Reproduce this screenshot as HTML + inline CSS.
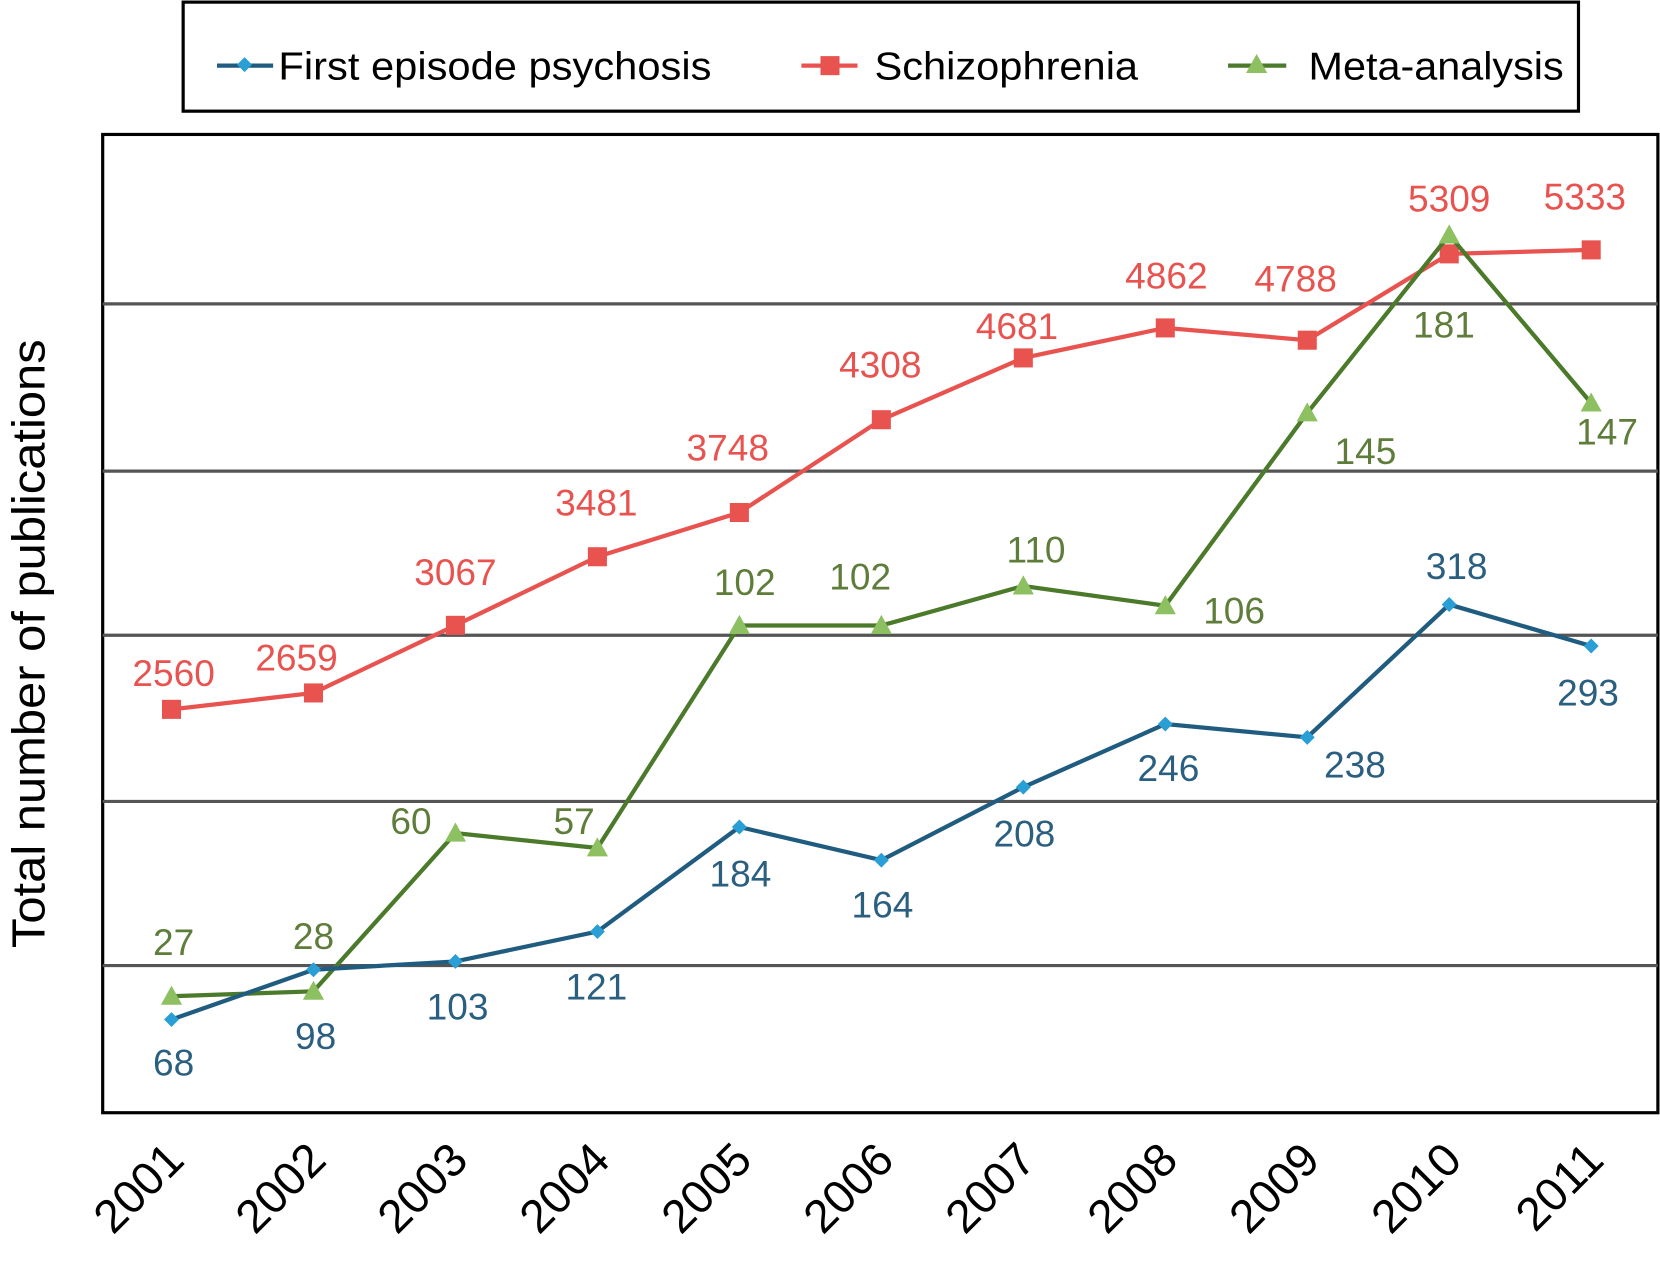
<!DOCTYPE html>
<html><head><meta charset="utf-8"><style>
html,body{margin:0;padding:0;background:#fff;}
svg{display:block;font-family:"Liberation Sans",Arial,sans-serif;}
</style></head><body>
<svg id="chart" width="1660" height="1262" viewBox="0 0 1568 1192" preserveAspectRatio="none" xmlns="http://www.w3.org/2000/svg">
<g>
<rect x="173" y="2" width="1318" height="103" fill="#fff" stroke="#000" stroke-width="3"/>
<g>
<line x1="205" y1="62" x2="258" y2="62" stroke="#1f5c80" stroke-width="4"/>
<rect x="226" y="56" width="10" height="10" fill="#2a9fd6" transform="rotate(45 231 61)"/>
<text x="263" y="75" font-size="37" fill="#000" textLength="409" lengthAdjust="spacingAndGlyphs">First episode psychosis</text></g>
<g>
<line x1="757" y1="62" x2="810" y2="62" stroke="#e8534f" stroke-width="4"/>
<rect x="775" y="53" width="18" height="18" fill="#e8534f"/>
<text x="826" y="75" font-size="37" fill="#000" textLength="249" lengthAdjust="spacingAndGlyphs">Schizophrenia</text></g>
<g>
<line x1="1160" y1="62" x2="1215" y2="62" stroke="#4a7a2a" stroke-width="4"/>
<polygon points="1187,51 1197,69 1177,69" fill="#8dc060"/>
<text x="1236" y="75" font-size="37" fill="#000" textLength="241" lengthAdjust="spacingAndGlyphs">Meta-analysis</text></g>
</g>
<rect x="97" y="127" width="1469" height="924" fill="#fff" stroke="#000" stroke-width="3"/>
<g id="grid"></g>
<g id="series"></g>
<g id="xlabels"></g>
<text transform="translate(42 608) rotate(-90)" text-anchor="middle" font-size="44" fill="#000" textLength="575" lengthAdjust="spacingAndGlyphs">Total number of publications</text>
</svg>
<script>
const years = [2001,2002,2003,2004,2005,2006,2007,2008,2009,2010,2011];
const schizo = [2560,2659,3067,3481,3748,4308,4681,4862,4788,5309,5333];
const fep = [68,98,103,121,184,164,208,246,238,318,293];
const meta = [27,28,60,57,102,102,110,106,145,181,147];
const gridYs = [287,445,600,757,912];
const NS="http://www.w3.org/2000/svg";
function mk(t,a,p){const e=document.createElementNS(NS,t);for(const k in a)e.setAttribute(k,a[k]);p.appendChild(e);return e;}
function xScale(i){return 162+i*(1503-162)/(years.length-1);}
const yS = v=>670-(v-2560)*0.1565;
const yF = v=>963-(v-68)*1.568;
const yM = v=>941-(v-27)*4.669;
const grid=document.getElementById('grid');
gridYs.forEach(y=>{const l=mk('line',{x1:97,x2:1566,y1:y,y2:y,stroke:'#555','stroke-width':3},grid);

});
const series=document.getElementById('series');
const offS=[[2,-34],[-16,-33],[0,-50],[-1,-51],[-11,-61],[-1,-52],[-6,-30],[1,-49],[-11,-58],[0,-52],[-6,-50]];
const offF=[[2,41],[2,63],[2,43],[-1,52],[1,44],[1,42],[1,44],[3,42],[45,26],[7,-36],[-3,44]];
const offM=[[2,-51],[0,-52],[-42,-11],[-22,-25],[5,-41],[-20,-46],[12,-34],[65,5],[55,36],[-5,85],[15,27]];
function draw(name,vals,ys,line,mark,lab,off,shape){
 const g=mk('g',{},series);
 
 
 const pts=vals.map((v,i)=>xScale(i)+','+ys(v)).join(' ');
 const pl=mk('polyline',{points:pts,fill:'none',stroke:line,'stroke-width':4},g);
 
 
 vals.forEach((v,i)=>{const x=xScale(i),y=ys(v);let m;
  if(shape==='sq')m=mk('rect',{x:x-9,y:y-9,width:18,height:18,fill:mark},g);
  else if(shape==='di')m=mk('rect',{x:x-5,y:y-5,width:10,height:10,fill:mark,transform:`rotate(45 ${x} ${y})`},g);
  else m=mk('polygon',{points:`${x},${y-10} ${x+10},${y+8} ${x-10},${y+8}`,fill:mark},g);
  
  
  const t=mk('text',{x:x+off[i][0],y:y+off[i][1]+12,'text-anchor':'middle','font-size':35,fill:lab},g);
  t.textContent=v;
  
  });
}
draw('schizophrenia',schizo,yS,'#e8534f','#e8534f','#e8534f',offS,'sq');
draw('meta-analysis',meta,yM,'#4a7a2a','#8dc060','#5e7d3a',offM,'tri');
draw('first-episode',fep,yF,'#1f5c80','#2a9fd6','#2b5f80',offF,'di');
const xl=document.getElementById('xlabels');
years.forEach((yr,i)=>{const x=xScale(i)+14;
 const t=mk('text',{x:x,y:1098,'text-anchor':'end','font-size':44,fill:'#000',transform:`rotate(-45 ${x} 1098)`},xl);
 t.textContent=yr;
 
 });
</script>
</body></html>
